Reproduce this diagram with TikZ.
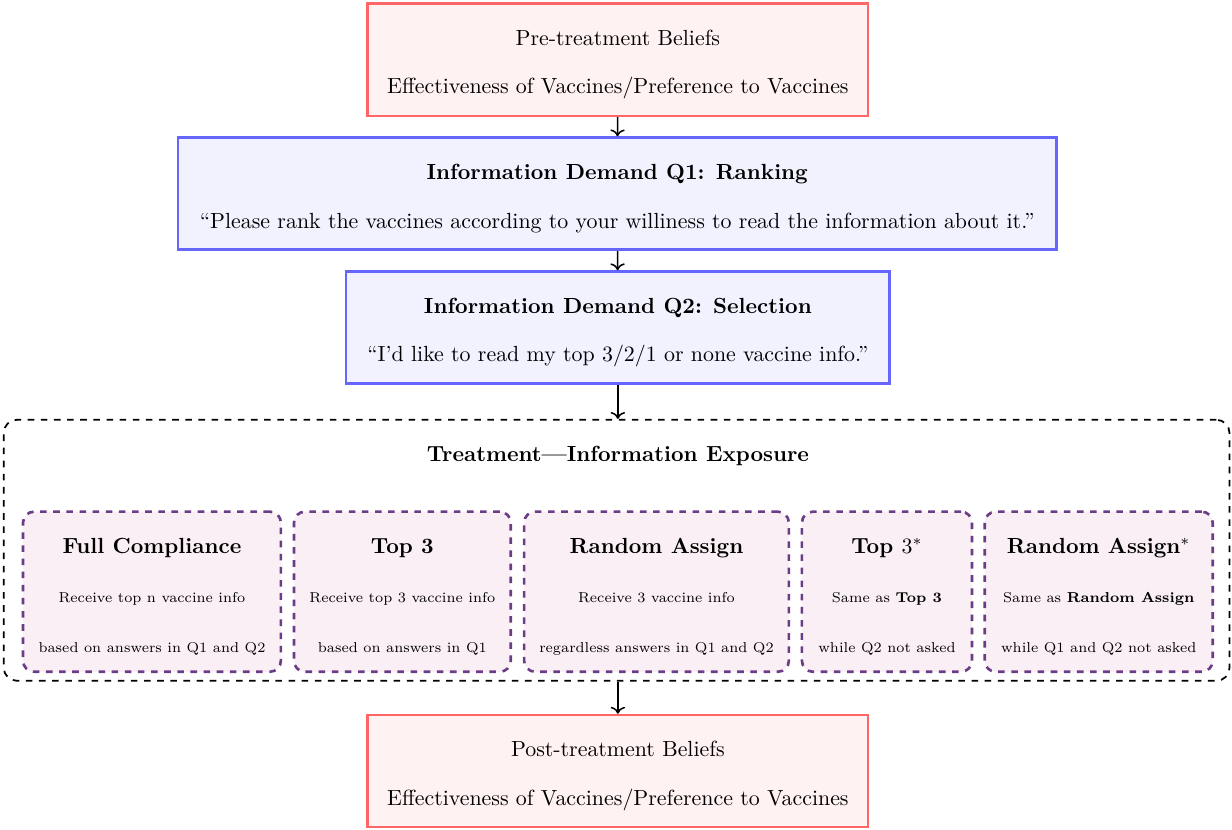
\documentclass[tikz,border=0pt]{standalone}
\usepackage{amsmath,amssymb}
\usepackage{xcolor}
\usepackage{tikz}
\usetikzlibrary{calc,arrows.meta}
\definecolor{beliefline}{HTML}{FF6666}
\definecolor{beliefbg}{HTML}{FFF2F2}
\definecolor{demandline}{HTML}{6666FF}
\definecolor{demandbg}{HTML}{F2F2FF}
\definecolor{armline}{HTML}{6A3D86}
\definecolor{armbg}{HTML}{FAEFF4}
\newcommand{\topgap}{\rule{0pt}{11.5pt}}
\tikzset{
  belief/.style={draw=beliefline, fill=beliefbg, line width=1.2pt, align=center, minimum width=8.03cm, minimum height=1.8cm},
  demand/.style={draw=demandline, fill=demandbg, line width=1.2pt, align=center, minimum height=1.8cm},
  arm/.style={draw=armline, fill=armbg, dashed, line width=1.2pt, rounded corners=5pt, align=center, font=\fontsize{6.55}{8}\selectfont, minimum height=2.57cm},
  frame/.style={draw=black, dashed, line width=0.8pt, rounded corners=6pt, minimum width=19.68cm, minimum height=4.19cm},
  ttl/.style={font=\bfseries},
  arr/.style={draw=black, line width=0.7pt, ->},
}

\begin{document}
\begin{tikzpicture}
  \useasboundingbox (0,0) rectangle (19.78,-13.31);
  % beliefs and demand questions
  \node[belief] (pre) at (9.92,-0.96) {\topgap Pre-treatment Beliefs\\[10pt] Effectiveness of Vaccines/Preference to Vaccines};
  \node[demand, minimum width=14.11cm] (qone) at (9.91,-3.11) {\topgap\textbf{Information Demand Q1: Ranking}\\[10pt] ``Please rank the vaccines according to your williness to read the information about it.''};
  \node[demand, minimum width=8.73cm] (qtwo) at (9.92,-5.26) {\topgap\textbf{Information Demand Q2: Selection}\\[10pt] ``I'd like to read my top 3/2/1 or none vaccine info.''};
  % treatment arms
  \node[frame] (treat) at (9.90,-8.835) {};
  \node[ttl] (treatttl) at (9.92,-7.32) {Treatment---Information Exposure};
  \node[arm, minimum width=4.14cm] (full) at (2.44,-9.50) {{\normalsize\topgap\bfseries Full Compliance}\\[14.5pt] Receive top n vaccine info\\[14.5pt] based on answers in Q1 and Q2};
  \node[arm, minimum width=3.48cm] (topthree) at (6.46,-9.50) {{\normalsize\topgap\bfseries Top 3}\\[14.5pt] Receive top 3 vaccine info\\[14.5pt] based on answers in Q1};
  \node[arm, minimum width=4.25cm] (rand) at (10.54,-9.50) {{\normalsize\topgap\bfseries Random Assign}\\[14.5pt] Receive 3 vaccine info\\[14.5pt] regardless answers in Q1 and Q2};
  \node[arm, minimum width=2.73cm] (topthrees) at (14.24,-9.50) {{\normalsize\topgap\textbf{Top $3^*$}}\\[14.5pt] Same as \textbf{Top 3}\\[14.5pt] while Q2 not asked};
  \node[arm, minimum width=3.66cm] (rands) at (17.64,-9.50) {{\normalsize\topgap\textbf{Random Assign}$^*$}\\[14.5pt] Same as \textbf{Random Assign}\\[14.5pt] while Q1 and Q2 not asked};
  \node[belief] (post) at (9.92,-12.38) {\topgap Post-treatment Beliefs\\[10pt] Effectiveness of Vaccines/Preference to Vaccines};
  % arrows
  \draw[arr] (pre) -- (qone);
  \draw[arr] (qone) -- (qtwo);
  \draw[arr] (qtwo.south) -- (qtwo.south |- treat.north);
  \draw[arr] (post.north |- treat.south) -- (post.north);
\end{tikzpicture}
\end{document}
